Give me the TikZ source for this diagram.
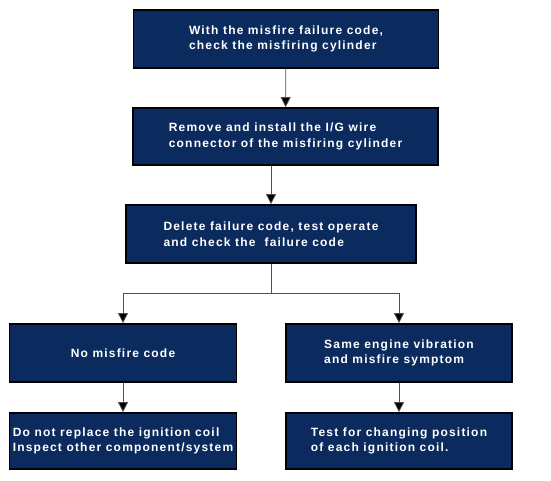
\documentclass[tikz,border=0pt]{standalone}
\usepackage{fontspec}
\setmainfont{Liberation Sans}[LetterSpace=10]
\usetikzlibrary{arrows.meta}
\definecolor{boxblue}{HTML}{0B2B5E}
\definecolor{linegray}{HTML}{505050}
\tikzset{
  stepbox/.style={draw=black, line width=1.8pt, fill=boxblue, text=white,
    font=\bfseries\fontsize{12}{15.5}\selectfont, align=left, inner sep=0pt},
  flow/.style={draw=linegray, line width=0.8pt, -{Triangle[length=10pt,width=10pt,fill=black]}}
}
\begin{document}
\begin{tikzpicture}[x=1pt,y=-1pt]
  \useasboundingbox (0,0) rectangle (551,480);
  \node[stepbox, minimum width=305pt, minimum height=58pt] (check) at (286,39) {With the misfire failure code,\\check the misfiring cylinder};
  \node[stepbox, minimum width=305pt, minimum height=57pt] (swap) at (285.5,136.5) {Remove and install the I/G wire\\connector of the misfiring cylinder};
  \node[stepbox, minimum width=290pt, minimum height=58pt] (retest) at (271,234) {Delete failure code, test operate\\and check the\ \ failure code};
  \node[stepbox, minimum width=227pt, minimum height=58pt] (nocode) at (123,353) {No misfire code};
  \node[stepbox, minimum width=226pt, minimum height=58pt] (same) at (399,353) {Same engine vibration\\and misfire symptom};
  \node[stepbox, minimum width=227pt, minimum height=56pt] (other) at (123,441) {Do not replace the ignition coil\\Inspect other component/system};
  \node[stepbox, minimum width=226pt, minimum height=56pt] (coil) at (399,441) {Test for changing position\\of each ignition coil.};
  \coordinate (split) at (retest.south |- 0,293);
  \draw[flow] (check) -- (swap);
  \draw[flow] (swap.south -| retest.north) -- (retest.north);
  \draw[draw=linegray, line width=0.8pt] (retest.south) -- (split);
  \draw[flow] (split) -| (nocode.north);
  \draw[flow] (split) -| (same.north);
  \draw[flow] (nocode) -- (other);
  \draw[flow] (same) -- (coil);
\end{tikzpicture}
\end{document}
